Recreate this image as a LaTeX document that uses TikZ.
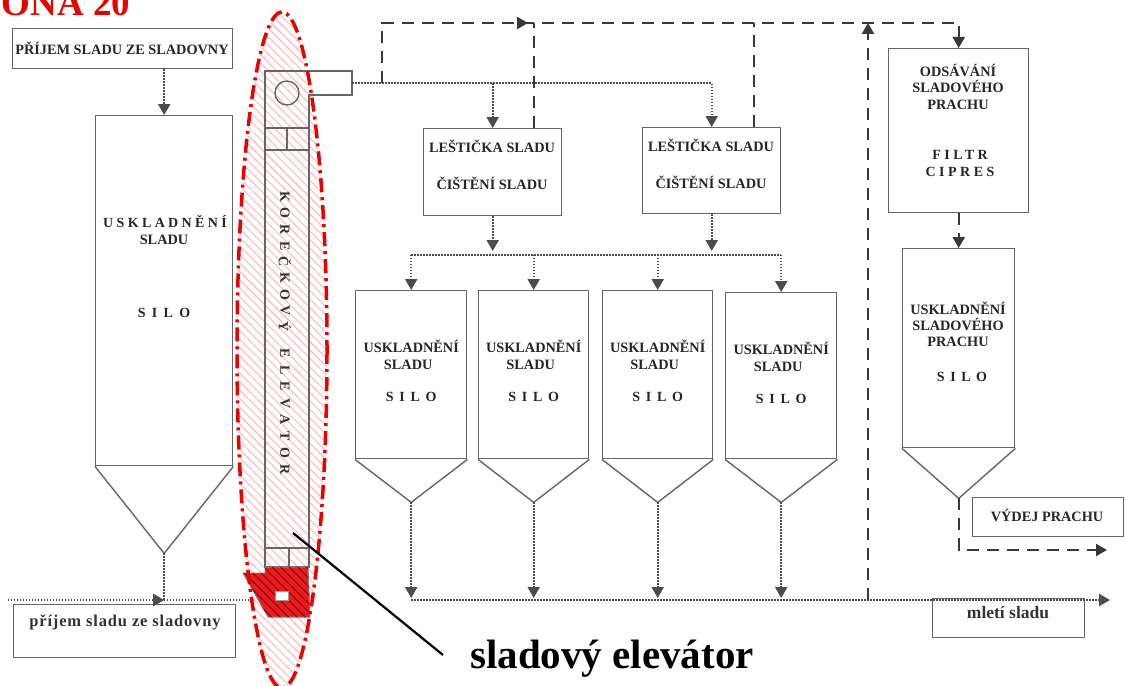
\documentclass[tikz,border=0pt]{standalone}
\usepackage{fontspec}
\setmainfont{Liberation Serif}
\usetikzlibrary{arrows.meta,patterns.meta,calc}
\definecolor{titlered}{RGB}{235,0,0}
\definecolor{bootred}{RGB}{232,28,32}
\newcommand\bx[5]{\node[box,minimum width=#4,minimum height=#5] (#1) at (#2,#3) {};}
\newcommand\silo[6]{%
  \node[box,minimum width=#4,minimum height=#5] (#1) at (#2,#3) {};
  \coordinate (#1-a) at ($(#1.south)+(0,#6)$);
  \draw[sil] (#1.south west) -- (#1-a) -- (#1.south east);}
\begin{document}
\begin{tikzpicture}[x=1pt,y=-1pt,
  box/.style={draw=black!60,line width=1.4pt,inner sep=0pt,anchor=north west},
  sil/.style={draw=black!60,line width=1.4pt,line join=miter},
  t/.style={font=\bfseries\fontsize{14.3}{16}\selectfont,text=black!85,anchor=base,inner sep=0pt},
  ts/.style={font=\bfseries\fontsize{14}{16}\selectfont\addfontfeatures{LetterSpace=#1},text=black!85,anchor=base,inner sep=0pt},
  elet/.style={font=\bfseries\fontsize{14}{14}\selectfont,text=black!80,inner sep=0pt,rotate=-90},
  dotl/.style={black!70,line width=2.2pt,dash pattern=on 1.4pt off 1.6pt},
  dashl/.style={black!78,line width=2.4pt,dash pattern=on 12pt off 8pt},
  tip/.style={-{Triangle[width=12pt,length=11pt]}},
  hatch/.style={pattern={Lines[angle=-45,distance=6pt,line width=0.9pt]},pattern color=#1},
]
\useasboundingbox (0,0) rectangle (1126,685);
\clip (0,0) rectangle (1126,685);
\fill[white] (0,0) rectangle (1126,685);

% hatched highlight ellipse
\fill[hatch=red!30] (282,350) ellipse [x radius=45, y radius=338];

% title (cut at the top-left edge as in the reference)
\node[anchor=base west,inner sep=0pt,font=\bfseries\fontsize{37}{37}\selectfont,text=titlered] (title) at (-23,16) {ZONA 20};

% left part
\bx{box1}{12}{28}{220}{40}
\node[t] (box1t) at (122,54.5) {PŘÍJEM SLADU ZE SLADOVNY};
\silo{big}{95}{115}{137}{350}{87}
\node[ts=24] (bigt1) at (165,227.5) {USKLADNĚNÍ};
\node[t] (bigt2) at (164,244.5) {SLADU};
\node[ts=20] (bigt3) at (164,317.5) {S I L O};
\draw[dotl,tip] (big.north |- box1.south) -- (big.north);

\bx{inbox}{13}{604}{222}{53}
\node[anchor=base,inner sep=0pt,font=\bfseries\fontsize{16.5}{18}\selectfont\addfontfeatures{LetterSpace=5},text=black!80] (inboxt) at (125,626) {příjem sladu ze sladovny};
\coordinate (hl) at (8,600);
\coordinate (bootw) at (252,600);
\draw[dotl] (big-a) -- (big-a |- hl);
\draw[dotl] (hl) -- (bootw);
\draw[dotl,tip] (hl) -- (big-a |- hl);

% elevator
\node[inner sep=0pt,minimum width=43,minimum height=24,anchor=north west] (chute) at (309,71) {};
\draw[sil] (265,71) -- (352,71) -- (352,95) -- (309,95) -- (309,567) -- (265,567) -- cycle;
\draw[sil] (287,93) circle [radius=12];
\draw[sil] (265,128) -- (309,128) (265,150) -- (309,150) (287,128) -- (287,150);
\draw[sil] (265,548) -- (309,548) (289,548) -- (289,567);
\foreach \l [count=\i] in {K,O,R,E,Č,K,O,V,Ý}
  \node[elet] (ea\i) at (285,{197+16.25*(\i-1)}) {\l};
\foreach \l [count=\i] in {E,L,E,V,A,T,O,R}
  \node[elet] (eb\i) at (285,{353+16.7*(\i-1)}) {\l};
% boot
\filldraw[fill=bootred,draw=black!50,line width=1pt] (265,567) -- (308,567) -- (310,617) -- (268,617) -- (243,573) -- (265,573) -- cycle;
\fill[hatch=red!55!black] (265,567) -- (308,567) -- (310,617) -- (268,617) -- (243,573) -- (265,573) -- cycle;
\filldraw[fill=white,draw=black!40,line width=0.8pt] (275,591) rectangle (288,600);

% polishers
\bx{l1}{423}{128}{138}{87}
\node[t] (l1a) at (492,152.5) {LEŠTIČKA SLADU};
\node[t] (l1b) at (492,189.5) {ČIŠTĚNÍ SLADU};
\bx{l2}{642}{127}{138}{86}
\node[t] (l2a) at (711,151.5) {LEŠTIČKA SLADU};
\node[t] (l2b) at (711,188.5) {ČIŠTĚNÍ SLADU};

% silos
\silo{s1}{355}{290}{111}{168}{43}
\silo{s2}{478}{290}{110}{168}{43}
\silo{s3}{602}{290}{110}{168}{43}
\silo{s4}{725}{292}{111}{166}{43}
\foreach \n in {s1,s2,s3,s4}{
  \node[t] (\n t1) at ($(\n.north)+(0,62.5)$) {USKLADNĚNÍ};
  \node[t] (\n t2) at ($(\n.north)+(-3,79.5)$) {SLADU};
  \node[ts=16] (\n t3) at ($(\n.north)+(0,111.5)$) {S I L O};
}

% dust extraction
\bx{ods}{888}{48}{140}{164}
\node[t] (odsa) at (958,76.5) {ODSÁVÁNÍ};
\node[t] (odsb) at (958,92.5) {SLADOVÉHO};
\node[t] (odsc) at (958,109.5) {PRACHU};
\node[ts=25] (odsd) at (960,159.5) {FILTR};
\node[ts=25] (odse) at (960,176.5) {CIPRES};
\silo{dust}{902}{248}{112}{199}{50}
\node[t] (dusta) at (958,314.5) {USKLADNĚNÍ};
\node[t] (dustb) at (958,330.5) {SLADOVÉHO};
\node[t] (dustc) at (958,346.5) {PRACHU};
\node[ts=15] (dustd) at (962,381.5) {S I L O};
\bx{vydej}{972}{497}{151}{39}
\node[t] (vydejt) at (1047,521.5) {VÝDEJ PRACHU};
\bx{mleti}{932}{598}{152}{39}
\node[anchor=base,inner sep=0pt,font=\bfseries\fontsize{17.5}{18}\selectfont,text=black!80] (mletit) at (1008,618) {mletí sladu};

% connectors: dotted malt flow
\draw[dotl,tip] (chute.east) -| (l2.north);
\draw[dotl,tip] (l1.north |- chute.east) -- (l1.north);
\coordinate (h2) at (410,255);
\draw[dotl] (s1.north |- h2) -- (s4.north |- h2);
\draw[dotl,tip,shorten >=4pt] (l1.south) -- (l1.south |- h2);
\draw[dotl,tip,shorten >=4pt] (l2.south) -- (l2.south |- h2);
\foreach \n in {s1,s2,s3,s4}{
  \draw[dotl,tip] (\n.north |- h2) -- (\n.north);
}
\coordinate (h3) at (1110,600);
\draw[dotl,tip] (s1-a |- h3) -- (h3);
\foreach \n in {s1,s2,s3,s4}{
  \draw[dotl,tip,shorten >=2pt] (\n-a) -- (\n-a |- h3);
}

% connectors: dashed dust flow
\coordinate (top) at (382,23);
\draw[dashl,tip] (chute.east -| top) -- (top) -| (ods.north);
\draw[dashl,tip] (top) -- ++(146,0);
\coordinate (l1t) at ($(l1.north)+(41,0)$);
\coordinate (l2t) at ($(l2.north)+(42,0)$);
\draw[dashl] (l1t) -- (l1t |- top);
\draw[dashl] (l2t) -- (l2t |- top);
\coordinate (bl) at (868,600);
\draw[dashl,tip] (bl) -- (bl |- top);
\draw[dashl,tip] (ods.south) -- (dust.north);
\coordinate (va) at (1107,550);
\draw[dashl,tip] (dust-a) |- (va);

% highlight outline and label
\draw[titlered,line width=3.5pt,dash pattern=on 14pt off 5pt on 3pt off 5pt] (282,350) ellipse [x radius=45, y radius=338];
\coordinate (ptr) at (293,533);
\coordinate (ptrend) at (443,655);
\node[anchor=base west,inner sep=0pt,font=\bfseries\fontsize{41}{41}\selectfont] (elev) at (470,668) {sladový elevátor};
\draw[line width=2.2pt] (ptr) -- (ptrend);
\end{tikzpicture}
\end{document}
